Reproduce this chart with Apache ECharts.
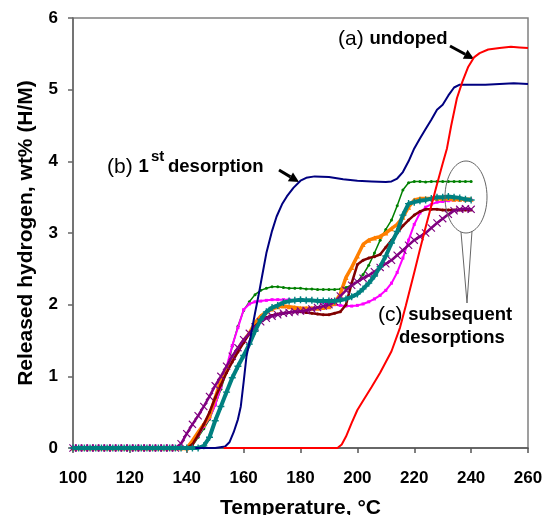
<!DOCTYPE html>
<html><head><meta charset="utf-8">
<script src="https://cdn.jsdelivr.net/npm/echarts@6/dist/echarts.min.js"></script>
<style>html,body{margin:0;padding:0;background:#fff}#c{width:544px;height:515px}</style>
</head><body><div id="c"></div>
<script>
const FONT = '"Liberation Sans", Arial, Helvetica, sans-serif';

// axis tick labels
const xTickLabels = ['100','120','140','160','180','200','220','240','260'];
const yTickLabels = ['0','1','2','3','4','5','6'];

// (a) undoped
const redT = [153,193,194.5,196,198,200,202,205,208,212,215,217,220,222,224,226,228,230,231.5,233,235,237,239,241,243,246,250,254,257,260];
const redV = [0,0,0.05,0.16,0.35,0.53,0.66,0.85,1.05,1.35,1.68,1.98,2.45,2.77,3.08,3.38,3.68,3.97,4.18,4.5,4.88,5.12,5.32,5.45,5.51,5.56,5.58,5.6,5.59,5.58];

// (b) 1st desorption
const blueT = [143,150,153.5,155,156.5,158,159,160,161,162.3,164,165.2,166.5,168,170,171.6,173.5,175.2,177.5,180,182,185,190,195,200,205,210,212,214,216,218,220,222,224,226,228,230,232,234,236,240,245,250,255,260];
const blueV = [0,0,0.02,0.08,0.22,0.4,0.58,0.92,1.28,1.52,1.88,2.12,2.4,2.72,3.03,3.23,3.4,3.51,3.63,3.73,3.77,3.79,3.78,3.75,3.73,3.72,3.71,3.72,3.76,3.85,4.0,4.18,4.32,4.45,4.58,4.72,4.79,4.92,5.03,5.07,5.07,5.07,5.08,5.09,5.08];

// (c) subsequent desorptions — shared temperatures
const subT = [100,102,104,106,108,110,112,114,116,118,120,122,124,126,128,130,132,134,136,138,140,142,144,146,148,150,152,154,156,158,160,162,164,166,168,170,172,174,176,178,180,182,184,186,188,190,192,194,196,198,200,202,204,206,208,210,212,214,216,218,220,222,224,226,228,230,232,234,236,238,240];

const greenV = [0,0,0,0,0,0,0,0,0,0,0,0,0,0,0,0,0,0,0,0,0,
  0.03,0.15,0.27,0.4,0.6,0.82,1.07,1.42,1.7,1.92,2.04,2.14,2.2,2.23,2.25,2.25,2.24,2.23,2.23,2.23,2.22,2.22,2.21,2.21,2.21,2.21,2.22,2.24,2.27,2.32,2.42,2.55,2.72,2.9,3.05,3.18,3.38,3.6,3.7,3.72,3.72,3.71,3.72,3.72,3.72,3.72,3.72,3.72,3.72,3.72];
const magentaV = [0,0,0,0,0,0,0,0,0,0,0,0,0,0,0,0,0,0,0,0,0,
  0.05,0.17,0.3,0.42,0.6,0.85,1.13,1.43,1.68,1.93,2.01,2.04,2.05,2.06,2.07,2.07,2.07,2.07,2.06,2.06,2.06,2.06,2.05,2.03,2.01,2.0,1.99,1.98,1.98,1.99,2.01,2.04,2.08,2.13,2.2,2.3,2.45,2.65,2.9,3.12,3.28,3.36,3.4,3.43,3.44,3.45,3.46,3.46,3.46,3.46];
const orangeV = [0,0,0,0,0,0,0,0,0,0,0,0,0,0,0,0,0,0,0,0,0,
  0.1,0.22,0.33,0.45,0.7,0.95,1.1,1.25,1.38,1.5,1.6,1.75,1.84,1.9,1.94,1.97,1.98,1.97,1.96,1.95,1.95,1.95,1.95,1.96,1.97,2.02,2.15,2.38,2.52,2.68,2.84,2.9,2.93,2.95,3.0,3.06,3.12,3.22,3.36,3.46,3.48,3.48,3.48,3.48,3.48,3.48,3.47,3.47,3.47,3.47];
const maroonV = [0,0,0,0,0,0,0,0,0,0,0,0,0,0,0,0,0,0,0,0,0,
  0.05,0.18,0.33,0.5,0.7,0.88,1.05,1.2,1.34,1.47,1.6,1.7,1.77,1.82,1.85,1.87,1.88,1.89,1.9,1.9,1.89,1.88,1.87,1.86,1.86,1.88,1.9,2.0,2.3,2.56,2.62,2.65,2.67,2.7,2.8,2.9,3.0,3.1,3.18,3.25,3.3,3.33,3.33,3.33,3.32,3.32,3.32,3.32,3.32,3.32];
const tealV = [0,0,0,0,0,0,0,0,0,0,0,0,0,0,0,0,0,0,0,0,0,0,0,
  0.03,0.15,0.38,0.58,0.78,0.98,1.14,1.29,1.45,1.63,1.79,1.9,1.96,1.99,2.03,2.05,2.06,2.07,2.06,2.06,2.05,2.05,2.05,2.05,2.06,2.08,2.11,2.15,2.22,2.3,2.4,2.53,2.68,2.86,3.02,3.25,3.41,3.43,3.45,3.46,3.48,3.5,3.5,3.51,3.5,3.49,3.47,3.46];
const purpleV = [0,0,0,0,0,0,0,0,0,0,0,0,0,0,0,0,0,0,0,
  0.06,0.2,0.33,0.45,0.58,0.72,0.87,1.0,1.14,1.28,1.4,1.51,1.6,1.69,1.76,1.81,1.84,1.86,1.88,1.89,1.9,1.91,1.92,1.94,1.96,1.98,2.0,2.04,2.12,2.2,2.27,2.32,2.37,2.41,2.46,2.52,2.57,2.62,2.69,2.76,2.83,2.9,2.95,3.0,3.07,3.14,3.2,3.26,3.31,3.33,3.34,3.33];

const X_SYM = 'path://M0,1L1,0L5,4L9,0L10,1L6,5L10,9L9,10L5,6L1,10L0,9L4,5Z';
const PLUS_SYM = 'path://M4,0H6V4H10V6H6V10H4V6H0V4H4Z';

function pairs(T, V) { return T.map((t, i) => [t, V[i]]); }
function mk(name, T, V, color, width, symbol, size, z) {
  return {
    name, type: 'line', data: pairs(T, V), z,
    symbol: symbol || 'none', symbolSize: size || 0, showSymbol: !!symbol,
    lineStyle: { color, width }, itemStyle: { color, borderWidth: 0 },
    emphasis: { disabled: true }, animation: false, silent: true
  };
}

const chart = echarts.init(document.getElementById('c'), null, { renderer: 'canvas' });

function arrow(x1, y1, x2, y2) {
  const dx = x2 - x1, dy = y2 - y1, L = Math.hypot(dx, dy);
  const ux = dx / L, uy = dy / L, px = -uy, py = ux;
  const hl = 10, hw = 5;
  const bx = x2 - ux * hl, by = y2 - uy * hl;
  return [
    { type: 'line', shape: { x1, y1, x2: bx, y2: by }, style: { stroke: '#000', lineWidth: 3 } },
    { type: 'polygon', shape: { points: [[x2, y2], [bx + px * hw, by + py * hw], [bx - px * hw, by - py * hw]] }, style: { fill: '#000' } }
  ];
}

const reg = { fontFamily: FONT, fontSize: 21, color: '#222' };
const bold = { fontFamily: FONT, fontSize: 18.5, fontWeight: 'bold', color: '#000' };

const graphics = [
  { type: 'text', x: 338, y: 39, style: { text: '{r|(a) }{b|undoped}', rich: { r: reg, b: bold }, verticalAlign: 'middle' }, z: 100 },
  { type: 'text', x: 107, y: 167, style: { text: '{r|(b) }{b|1}', rich: { r: reg, b: bold }, verticalAlign: 'middle' }, z: 100 },
  { type: 'text', x: 151, y: 157, style: { text: 'st', fontFamily: FONT, fontSize: 15, fontWeight: 'bold', fill: '#000', verticalAlign: 'middle' }, z: 100 },
  { type: 'text', x: 168, y: 167, style: { text: 'desorption', fontFamily: FONT, fontSize: 18.5, fontWeight: 'bold', fill: '#000', verticalAlign: 'middle' }, z: 100 },
  { type: 'text', x: 378, y: 315, style: { text: '{r|(c) }{b|subsequent}', rich: { r: reg, b: bold }, verticalAlign: 'middle' }, z: 100 },
  { type: 'text', x: 399, y: 338, style: { text: 'desorptions', fontFamily: FONT, fontSize: 18.5, fontWeight: 'bold', fill: '#000', verticalAlign: 'middle' }, z: 100 },
  { type: 'ellipse', shape: { cx: 466, cy: 197, rx: 21, ry: 36 }, style: { fill: null, stroke: '#666', lineWidth: 1 }, z: 100 },
  { type: 'polyline', shape: { points: [[461, 232], [467, 303], [472, 231]] }, style: { fill: null, stroke: '#666', lineWidth: 1 }, z: 100 }
].concat(arrow(450, 46, 474, 59), arrow(279, 170, 299, 182));

chart.setOption({
  animation: false,
  backgroundColor: '#fff',
  grid: { left: 73, right: 16, top: 18, bottom: 67, show: true, borderColor: '#808080', borderWidth: 1.5, outerBoundsMode: 'none', containLabel: false },
  xAxis: {
    type: 'value', min: 100, max: 260, interval: 20,
    name: 'Temperature, °C', nameLocation: 'middle', nameGap: 50,
    nameTextStyle: { fontFamily: FONT, fontSize: 21, fontWeight: 'bold', color: '#000' },
    axisLine: { onZero: false, lineStyle: { color: '#555', width: 1.5 } },
    axisTick: { show: true, inside: false, length: 5, lineStyle: { color: '#555', width: 1.5 } },
    axisLabel: { margin: 22, fontFamily: FONT, fontSize: 17, fontWeight: 'bold', color: '#000',
      formatter: v => xTickLabels[Math.round((v - 100) / 20)] },
    splitLine: { show: false }
  },
  yAxis: {
    type: 'value', min: 0, max: 6, interval: 1,
    name: 'Released hydrogen, wt% (H/M)', nameLocation: 'middle', nameGap: 36,
    nameTextStyle: { fontFamily: FONT, fontSize: 21, fontWeight: 'bold', color: '#000' },
    axisLine: { show: true, lineStyle: { color: '#666', width: 1.5 } },
    axisTick: { show: true, inside: false, length: 5, lineStyle: { color: '#666', width: 1.5 } },
    axisLabel: { margin: 15, fontFamily: FONT, fontSize: 17, fontWeight: 'bold', color: '#000',
      formatter: v => yTickLabels[Math.round(v)] },
    splitLine: { show: false }
  },
  series: [
    mk('green', subT, greenV, '#008000', 1.5, 'circle', 3, 2),
    mk('magenta', subT, magentaV, '#ff00ff', 2, 'rect', 3, 3),
    mk('orange', subT, orangeV, '#ff7f00', 3.5, 'triangle', 5, 4),
    mk('maroon', subT, maroonV, '#800000', 2.5, 'circle', 3, 5),
    mk('purple', subT, purpleV, '#800080', 2.5, X_SYM, 8, 6),
    mk('teal', subT, tealV, '#008080', 4, PLUS_SYM, 7, 7),
    mk('1st desorption', blueT, blueV, '#000080', 2, null, 0, 8),
    mk('undoped', redT, redV, '#ff0000', 2, null, 0, 9)
  ],
  graphic: graphics
});
</script>
</body></html>
